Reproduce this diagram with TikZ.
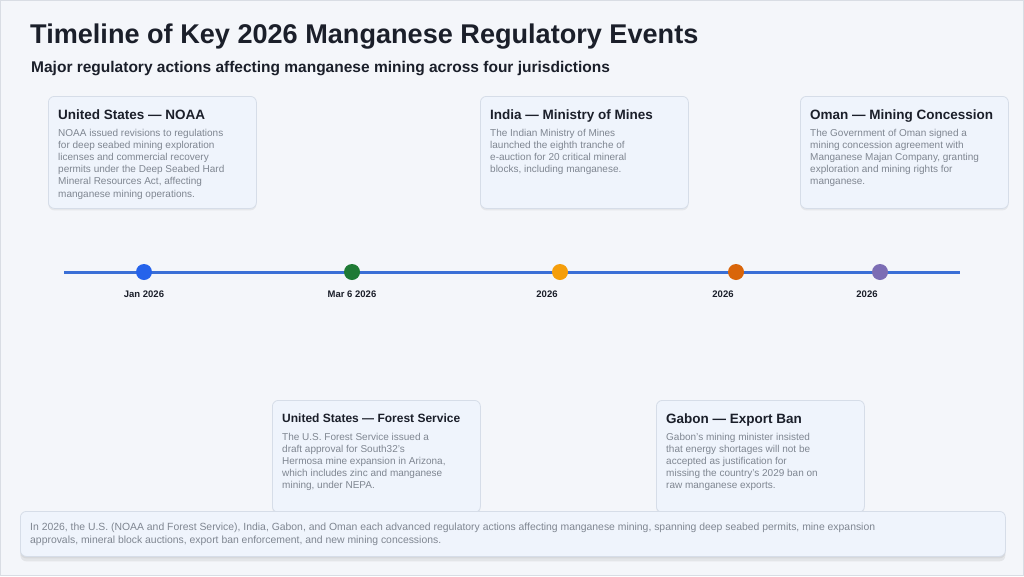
\documentclass[tikz,border=0pt]{standalone}
\usepackage{fontspec}
\setmainfont{Liberation Sans}
\usetikzlibrary{shadows}
\definecolor{pagebg}{HTML}{F4F6FA}
\definecolor{framegray}{HTML}{D9DDE4}
\definecolor{cardfill}{HTML}{EFF4FC}
\definecolor{cardline}{HTML}{D6DDE8}
\definecolor{titleink}{HTML}{1B1F2A}
\definecolor{bodyink}{HTML}{7F8691}
\definecolor{lineblue}{HTML}{3A6FD6}
\definecolor{dotblue}{HTML}{2563EB}
\definecolor{dotgreen}{HTML}{1F7A35}
\definecolor{dotamber}{HTML}{F59E0B}
\definecolor{dotorange}{HTML}{D9650A}
\definecolor{dotpurple}{HTML}{7C6DB4}
\begin{document}
\begin{tikzpicture}[x=1pt,y=-1pt,
    card/.style={draw=cardline, fill=cardfill, line width=.8pt, rounded corners=6pt,
        drop shadow={shadow xshift=0pt, shadow yshift=-2pt, opacity=.12},
        anchor=north west, inner sep=0pt, minimum width=208pt, minimum height=112pt},
    cardtitle/.style={anchor=base west, inner sep=0pt, text=titleink,
        font=\bfseries\fontsize{13.5}{16}\selectfont},
    cardbody/.style={anchor=north west, inner sep=0pt, text=bodyink, align=left,
        font=\fontsize{10}{12.2}\selectfont},
    dot/.style={circle, inner sep=0pt, minimum size=16pt},
    datelabel/.style={inner sep=0pt, text=titleink, font=\bfseries\fontsize{9.5}{11}\selectfont}]

        \fill [color=pagebg] (0, 0) rectangle (1024, 576);
        \draw [color=framegray] (0.5, 0.5) rectangle (1023.5, 575.5);

        \node [anchor=base west, inner sep=0pt, text=titleink, font=\bfseries\fontsize{27.1}{31}\selectfont]
            (title) at (30, 43) {Timeline of Key 2026 Manganese Regulatory Events};
        \node [anchor=base west, inner sep=0pt, text=titleink, font=\bfseries\fontsize{15.5}{18}\selectfont]
            (subtitle) at (31, 72) {Major regulatory actions affecting manganese mining across four jurisdictions};

        \begin{scope}
            \node [card] (noaa) at (48, 96) {};
            \node [cardtitle] (noaatitle) at (58, 119) {United States — NOAA};
            \node [cardbody] (noaabody) at (58, 128.7) {NOAA issued revisions to regulations\\for deep seabed mining exploration\\licenses and commercial recovery\\permits under the Deep Seabed Hard\\Mineral Resources Act, affecting\\manganese mining operations.};

            \node [card] (india) at (480, 96) {};
            \node [cardtitle] (indiatitle) at (490, 119) {India — Ministry of Mines};
            \node [cardbody] (indiabody) at (490, 128.7) {The Indian Ministry of Mines\\launched the eighth tranche of\\e-auction for 20 critical mineral\\blocks, including manganese.};

            \node [card] (oman) at (800, 96) {};
            \node [cardtitle] (omantitle) at (810, 119) {Oman — Mining Concession};
            \node [cardbody] (omanbody) at (810, 128.7) {The Government of Oman signed a\\mining concession agreement with\\Manganese Majan Company, granting\\exploration and mining rights for\\manganese.};
        \end{scope}

        \draw [color=lineblue, line width=3pt] (64, 272) -- (960, 272);

        \node [dot, fill=dotblue] (jan) at (144, 272) {};
        \node [dot, fill=dotgreen] (mar) at (352, 272) {};
        \node [dot, fill=dotamber] (ind) at (560, 272) {};
        \node [dot, fill=dotorange] (gab) at (736, 272) {};
        \node [dot, fill=dotpurple] (oma) at (880, 272) {};

        \node [datelabel] (janlabel) at (144, 294) {Jan 2026};
        \node [datelabel] (marlabel) at (352, 294) {Mar 6 2026};
        \node [datelabel] (indlabel) at (547, 294) {2026};
        \node [datelabel] (gablabel) at (723, 294) {2026};
        \node [datelabel] (omalabel) at (867, 294) {2026};

        \begin{scope}
            \node [card] (forest) at (272, 400) {};
            \node [cardtitle, font=\bfseries\fontsize{12}{14}\selectfont] (foresttitle) at (282, 422) {United States — Forest Service};
            \node [cardbody] (forestbody) at (282, 432.7) {The U.S. Forest Service issued a\\draft approval for South32's\\Hermosa mine expansion in Arizona,\\which includes zinc and manganese\\mining, under NEPA.};

            \node [card] (gabon) at (656, 400) {};
            \node [cardtitle] (gabontitle) at (666, 423) {Gabon — Export Ban};
            \node [cardbody] (gabonbody) at (666, 432.7) {Gabon's mining minister insisted\\that energy shortages will not be\\accepted as justification for\\missing the country's 2029 ban on\\raw manganese exports.};
        \end{scope}

        \node [card, minimum width=985pt, minimum height=45pt,
            drop shadow={shadow xshift=0pt, shadow yshift=-5pt, opacity=.14}]
            (summary) at (20, 511) {};
        \node [cardbody, font=\fontsize{10.4}{13.3}\selectfont] (summarytext) at (30, 522.3)
            {In 2026, the U.S. (NOAA and Forest Service), India, Gabon, and Oman each advanced regulatory actions affecting manganese mining, spanning deep seabed permits, mine expansion\\approvals, mineral block auctions, export ban enforcement, and new mining concessions.};

    \end{tikzpicture}
\end{document}
